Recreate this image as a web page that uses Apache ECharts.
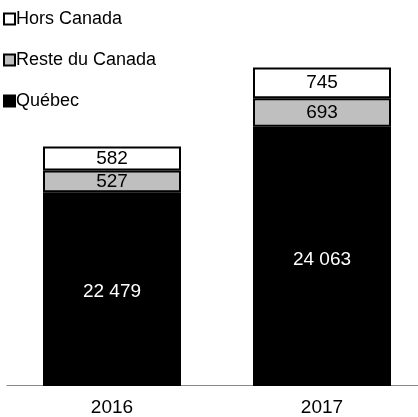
<!DOCTYPE html>
<html>
<head>
<meta charset="utf-8">
<script src="https://cdn.jsdelivr.net/npm/echarts@6/dist/echarts.min.js"></script>
<style>
  html, body { margin: 0; padding: 0; background: #fff; overflow: hidden; }
  /* the plot runs slightly past the right edge of the window */
  #chart { width: 427px; height: 417px; }
</style>
</head>
<body>
<div id="chart"></div>
<script>
// Years shown on the category axis
const categories = ['2016', '2017'];
// Stacked segments, bottom to top
const quebec = [22479, 24063];
const resteDuCanada = [527, 693];
const horsCanada = [582, 745];

const FONT = '"Liberation Sans", Arial, sans-serif';

function fmt(v) {
  return String(v).replace(/\B(?=(\d{3})+(?!\d))/g, ' ');
}

const chart = echarts.init(document.getElementById('chart'), null, { renderer: 'canvas' });

const barWidth = 138;
const labelSize = 19;

chart.setOption({
  animation: false,
  backgroundColor: '#ffffff',
  textStyle: { fontFamily: FONT },
  legend: {
    orient: 'vertical',
    left: 3,
    top: 10,
    padding: 0,
    itemWidth: 11,
    itemHeight: 11,
    itemGap: 23,
    icon: 'rect',
    textStyle: { fontFamily: FONT, fontSize: 18, color: '#000', padding: [0, 0, 0, -4], lineHeight: 18 },
    data: ['Hors Canada', 'Reste du Canada', 'Québec']
  },
  grid: { left: 7, right: 0, top: 47, bottom: 31 },
  xAxis: {
    type: 'category',
    data: categories,
    axisLine: { lineStyle: { color: '#888888', width: 1 } },
    axisTick: { show: false },
    axisLabel: { color: '#000', fontSize: labelSize, fontFamily: FONT, margin: 13 }
  },
  yAxis: {
    type: 'value',
    min: 17800,
    max: 26000,
    show: false,
    splitLine: { show: false }
  },
  series: [
    {
      name: 'Québec',
      type: 'bar',
      stack: 'total',
      barWidth: barWidth,
      data: quebec,
      itemStyle: { color: '#000000', borderColor: '#000000', borderWidth: 2 },
      label: {
        show: true, position: 'inside', offset: [0, 3], color: '#ffffff', fontSize: labelSize, fontFamily: FONT,
        formatter: p => fmt(p.value)
      }
    },
    {
      name: 'Reste du Canada',
      type: 'bar',
      stack: 'total',
      barWidth: barWidth,
      data: resteDuCanada,
      itemStyle: { color: '#bfbfbf', borderColor: '#000000', borderWidth: 2 },
      label: {
        show: true, position: 'inside', color: '#000000', fontSize: labelSize, fontFamily: FONT,
        formatter: p => fmt(p.value)
      }
    },
    {
      name: 'Hors Canada',
      type: 'bar',
      stack: 'total',
      barWidth: barWidth,
      data: horsCanada,
      itemStyle: { color: '#ffffff', borderColor: '#000000', borderWidth: 2 },
      label: {
        show: true, position: 'inside', color: '#000000', fontSize: labelSize, fontFamily: FONT,
        formatter: p => fmt(p.value)
      }
    }
  ]
});
</script>
</body>
</html>
